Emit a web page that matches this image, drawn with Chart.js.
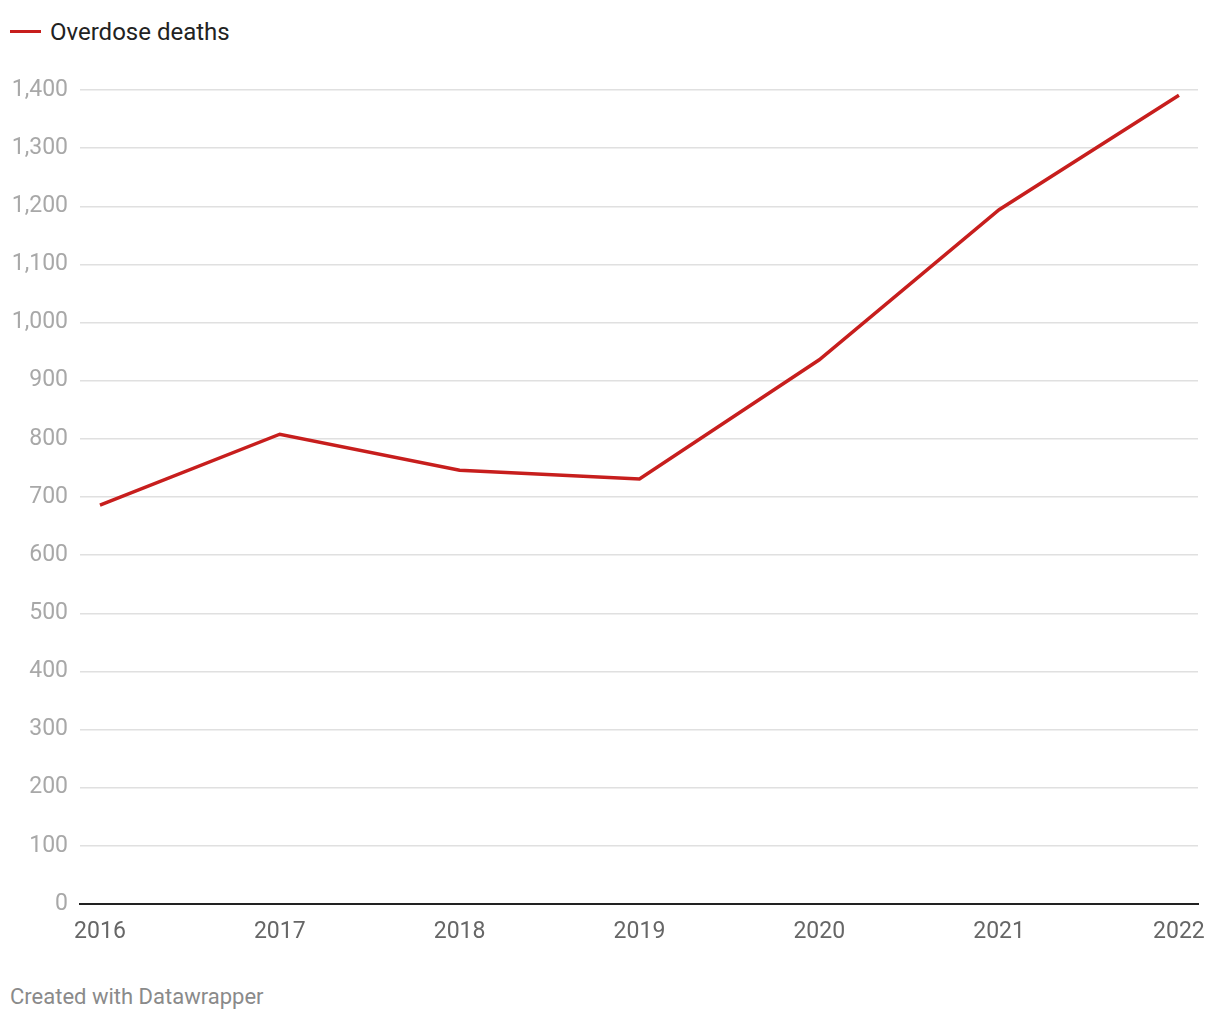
<!DOCTYPE html>
<html>
<head>
<meta charset="utf-8">
<script src="https://cdn.jsdelivr.net/npm/chart.js@4.4.1/dist/chart.umd.min.js"></script>
<style>
    html, body { margin: 0; padding: 0; background: #fff; }
    body { width: 1220px; height: 1020px; position: relative; font-family: Roboto, sans-serif; }
    .legend { position: absolute; left: 10px; top: 18px; font-size: 24px; color: #222; line-height: 28px; }
    .legend .swatch { display: inline-block; width: 31px; height: 3px; background: #c71e1d; vertical-align: middle; margin-right: 9px; position: relative; top: -2px; }
    .footer { position: absolute; left: 10px; top: 984px; font-size: 22px; color: #8a8a8a; }
    #wrap { position: absolute; left: 0; top: 0; width: 1220px; height: 960px; }
</style>
</head>
<body>
<div class="legend"><span class="swatch"></span>Overdose deaths</div>
<div id="wrap"><canvas id="chart"></canvas></div>
<div class="footer">Created with Datawrapper</div>
<script>
const years = [2016, 2017, 2018, 2019, 2020, 2021, 2022];
const deaths = [686, 808, 746, 731, 936, 1194, 1391];
const yTicks = [0, 100, 200, 300, 400, 500, 600, 700, 800, 900, 1000, 1100, 1200, 1300, 1400];

const chart = new Chart(document.getElementById("chart"), {
    type: "line",
    data: {
        datasets: [{
            label: "Overdose deaths",
            data: years.map((y, i) => ({ x: y, y: deaths[i] })),
            borderColor: "#c71e1d",
            borderWidth: 3.5,
            pointRadius: 0,
            tension: 0,
            fill: false,
        }]
    },
    options: {
        responsive: true,
        maintainAspectRatio: false,
        animation: false,
        layout: { padding: { left: 0, right: 22, top: 90, bottom: 0 } },
        plugins: {
            legend: { display: false },
            tooltip: { enabled: false },
        },
        scales: {
            x: {
                type: "linear",
                min: 2015.889,
                max: 2022.106,
                afterBuildTicks: (axis) => { axis.ticks = years.map(v => ({ value: v })); },
                afterFit: (axis) => { axis.height = 56; },
                grid: { display: false, drawTicks: false },
                border: { display: true, color: "#222", width: 2 },
                ticks: {
                    color: "#666",
                    font: { family: "Roboto", size: 23 },
                    padding: 14,
                    maxRotation: 0,
                    autoSkip: false,
                    callback: (v) => String(v),
                },
            },
            y: {
                min: 0,
                max: 1400,
                afterBuildTicks: (axis) => { axis.ticks = yTicks.map(v => ({ value: v })); },
                afterFit: (axis) => { axis.width = 80; },
                grid: { color: "#e0e0e0", lineWidth: 1.5, drawTicks: false },
                border: { display: false },
                ticks: {
                    color: "#a8a8a8",
                    font: { family: "Roboto", size: 23 },
                    padding: 12,
                    callback: (v) => v.toLocaleString("en-US"),
                },
            },
        },
    },
});
</script>
</body>
</html>
